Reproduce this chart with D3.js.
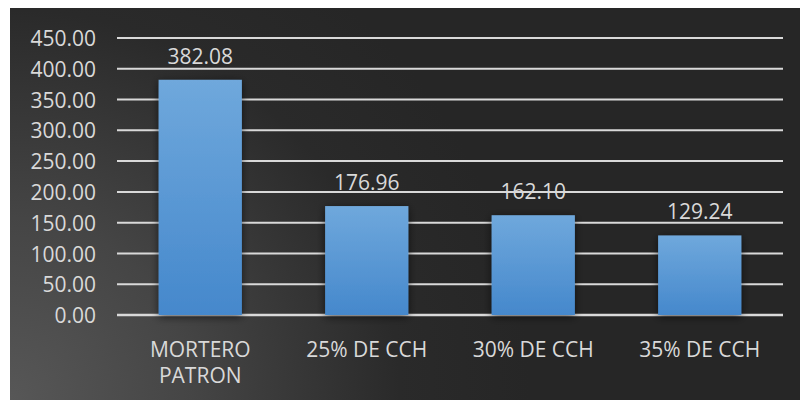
<!DOCTYPE html>
<html>
<head>
<meta charset="utf-8">
<script src="https://cdn.jsdelivr.net/npm/d3@7"></script>
<style>
  html, body { margin: 0; padding: 0; background: #ffffff; }
  svg { display: block; }
  text { font-family: "Open Sans", "Noto Sans", sans-serif; fill: #d9d9d9; }
</style>
</head>
<body>
<svg id="chart" width="800" height="400"></svg>
<script>
// Compressive strength by mix
const categories = [["MORTERO", "PATRON"], ["25% DE CCH"], ["30% DE CCH"], ["35% DE CCH"]];
const values = [382.08, 176.96, 162.10, 129.24];
const yTicks = [0, 50, 100, 150, 200, 250, 300, 350, 400, 450];

const svg = d3.select("#chart");
const W = 800, H = 400;
const frame = { x: 10, y: 8, w: W - 10, h: H - 8 };
const plot = { left: 117, right: 783, top: 38, bottom: 315 };

const defs = svg.append("defs");

// Dark panel, lighter toward the lower-left corner
const bg = defs.append("radialGradient").attr("id", "bgGrad")
  .attr("gradientUnits", "userSpaceOnUse")
  .attr("cx", 10).attr("cy", 400).attr("r", 520);
bg.append("stop").attr("offset", 0).attr("stop-color", "#575757");
bg.append("stop").attr("offset", 0.35).attr("stop-color", "#454545");
bg.append("stop").attr("offset", 0.75).attr("stop-color", "#2a2a2a");
bg.append("stop").attr("offset", 1).attr("stop-color", "#262626");

const barGrad = defs.append("linearGradient").attr("id", "barGrad")
  .attr("x1", 0).attr("y1", 0).attr("x2", 0).attr("y2", 1);
barGrad.append("stop").attr("offset", 0).attr("stop-color", "#6fa8dc");
barGrad.append("stop").attr("offset", 1).attr("stop-color", "#4588cc");

const shadow = defs.append("filter").attr("id", "barShadow")
  .attr("x", "-30%").attr("y", "-30%").attr("width", "160%").attr("height", "160%");
shadow.append("feGaussianBlur").attr("in", "SourceAlpha").attr("stdDeviation", 4).attr("result", "b");
shadow.append("feOffset").attr("in", "b").attr("dx", 0).attr("dy", 2).attr("result", "o");
shadow.append("feComponentTransfer").attr("in", "o").attr("result", "s")
  .append("feFuncA").attr("type", "linear").attr("slope", 0.6);
const merge = shadow.append("feMerge");
merge.append("feMergeNode").attr("in", "s");
merge.append("feMergeNode").attr("in", "SourceGraphic");

svg.append("rect")
  .attr("x", frame.x).attr("y", frame.y)
  .attr("width", frame.w).attr("height", frame.h)
  .attr("fill", "url(#bgGrad)");

const x = d3.scaleBand()
  .domain(d3.range(categories.length))
  .range([plot.left, plot.right])
  .paddingInner(0.5).paddingOuter(0.25);

const y = d3.scaleLinear().domain([0, 450]).range([plot.bottom, plot.top]);

// Gridlines
svg.append("g").selectAll("line")
  .data(yTicks)
  .join("line")
  .attr("x1", plot.left).attr("x2", plot.right)
  .attr("y1", d => y(d)).attr("y2", d => y(d))
  .attr("stroke", "#d9d9d9")
  .attr("stroke-width", d => d === 0 ? 2.5 : 2);

// Y axis labels
const yAxis = d3.axisLeft(y).tickValues(yTicks).tickFormat(d3.format(".2f")).tickSize(0).tickPadding(0);
const gy = svg.append("g").attr("transform", `translate(96,0)`).call(yAxis);
gy.select(".domain").remove();
gy.selectAll("text")
  .attr("font-size", 21)
  .attr("fill", "#d9d9d9")
  .attr("font-family", "'Open Sans', 'Noto Sans', sans-serif")
  .attr("dy", "0.36em");

// Bars
svg.append("g").selectAll("rect")
  .data(values)
  .join("rect")
  .attr("x", (d, i) => x(i))
  .attr("width", x.bandwidth())
  .attr("y", d => y(d))
  .attr("height", d => y(0) - y(d))
  .attr("fill", "url(#barGrad)")
  .attr("filter", "url(#barShadow)");

// Value labels
svg.append("g").selectAll("text")
  .data(values)
  .join("text")
  .attr("x", (d, i) => x(i) + x.bandwidth() / 2)
  .attr("y", d => y(d) - 16)
  .attr("text-anchor", "middle")
  .attr("font-size", 21)
  .text(d => d3.format(".2f")(d));

// Category labels
const cat = svg.append("g").selectAll("text")
  .data(categories)
  .join("text")
  .attr("x", (d, i) => x(i) + x.bandwidth() / 2)
  .attr("y", 357)
  .attr("text-anchor", "middle")
  .attr("font-size", 21);
cat.selectAll("tspan")
  .data(d => d)
  .join("tspan")
  .attr("x", function () { return d3.select(this.parentNode).attr("x"); })
  .attr("dy", (d, i) => i === 0 ? 0 : 26)
  .text(d => d);
</script>
</body>
</html>
